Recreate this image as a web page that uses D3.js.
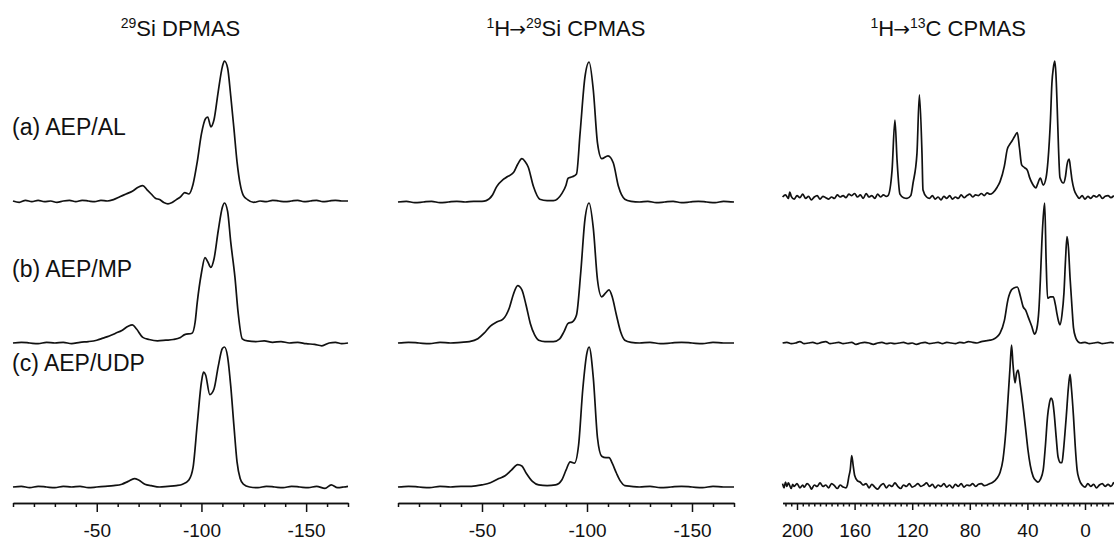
<!DOCTYPE html>
<meta charset="utf-8">
<script src="https://d3js.org/d3.v7.min.js"></script>
<style>
  body { margin: 0; background: white; }
  svg text { font-family: "Liberation Sans", Arial, sans-serif; fill: #111; }
  .spec { fill: none; stroke: #111; stroke-width: 1.7; stroke-linejoin: round; }
  .axis path, .axis line { stroke: #111; stroke-width: 1.5; }
</style>
<body>
<div id="chart"></div>
<script>
// panel titles and sample labels
var titles = [["29", "Si DPMAS"], ["1", "H", "\u2192", "29", "Si CPMAS"], ["1", "H", "\u2192", "13", "C CPMAS"]];
var samples = ["(a) AEP/AL", "(b) AEP/MP", "(c) AEP/UDP"];

// axis ticks (ppm)
var siMajor = [-50, -100, -150];
var siMinor = [-10, -20, -30, -40, -60, -70, -80, -90, -110, -120, -130, -140, -160, -170];
var cMajor = [200, 160, 120, 80, 40, 0];

// 29Si DPMAS spectra [ppm, intensity]
var dpAL = [[-10,0],[-13,-1],[-16,0.5],[-19,-0.5],[-22,0.5],[-25,-0.5],[-28,0],[-31,-1],[-34,0],[-37,0.5],[-40,-0.5],[-43,0.5],[-46,0],[-49,-0.5],[-52,0.5],[-55,0],[-58,1],[-61,3],[-64,5],[-67,7],[-70,10],[-72,11],[-74,8],[-76,5],[-78,2],[-80,1],[-82,-1],[-84,-2],[-86,-1],[-88,1],[-90,3],[-92,6],[-94,5],[-96,12],[-98,28],[-100,48],[-102,59],[-103,60],[-104.5,53],[-106,58],[-108,78],[-110,96],[-111,100],[-112.5,95],[-114,75],[-115.5,52],[-117,28],[-118.5,12],[-120,4],[-122,1],[-125,-1],[-128,0],[-131,-0.5],[-134,0.5],[-137,0],[-140,-0.5],[-143,0],[-146,0.5],[-149,-0.5],[-152,0],[-155,0.5],[-158,-0.5],[-161,0],[-164,0.5],[-167,0],[-170,0]];
var dpMP = [[-10,0],[-14,0.5],[-18,0],[-22,-0.5],[-26,0.5],[-30,0],[-34,0.5],[-38,-0.5],[-42,0.5],[-46,1],[-50,2],[-53,3.5],[-56,5],[-59,7],[-62,9],[-65,12],[-67,13],[-69,10],[-72,4],[-75,2.5],[-79,1.5],[-83,2],[-86.5,2.5],[-90,4],[-92,6],[-95.5,7],[-97,15],[-98,29],[-100,50],[-101.7,61],[-103,58],[-104.5,54],[-106,60],[-108,80],[-110,97],[-111,100],[-112.5,94],[-114,72],[-116,47],[-117.5,22],[-119.5,3],[-122,1.5],[-126,1],[-130,1.5],[-134,0.5],[-138,1],[-142,0],[-146,0.5],[-150,-0.5],[-154,-1],[-157.5,-2],[-161,0],[-164,0.5],[-167,-0.5],[-170,0]];
var dpUDP = [[-10,0],[-14,0.5],[-18,-0.5],[-22,0.5],[-26,0],[-30,-0.5],[-34,0.5],[-38,0],[-42,0.5],[-46,-0.5],[-50,0],[-54,0.5],[-58,1],[-62,2],[-65,4],[-68,6],[-70,5],[-73,2],[-76,1],[-80,0],[-84,0.5],[-88,1],[-91,2],[-94,5],[-96,14],[-98,45],[-100,75],[-101,82],[-102,80],[-104,66],[-106,70],[-108,86],[-110,99],[-111,100],[-112.5,93],[-114,72],[-115.5,44],[-117,18],[-118.5,6],[-120,2],[-123,0],[-127,-0.5],[-131,0.5],[-135,0],[-139,-0.5],[-143,0.5],[-147,0],[-151,-0.5],[-155,0.5],[-159,-1],[-162,1.5],[-165,-0.5],[-168,0],[-170,0.5]];

// 1H->29Si CPMAS spectra
var cpAL = [[-10,0],[-14,0.5],[-18,-0.5],[-22,0],[-26,0.5],[-30,-0.5],[-34,0],[-38,0.5],[-42,0],[-46,0.5],[-50,0.5],[-52,1],[-55,5],[-57,11],[-60,16],[-62,18],[-65,21],[-67,27],[-69,31],[-70.5,29],[-72,25],[-74.5,11],[-77.5,2],[-81,1],[-84,1],[-88,6],[-90,12],[-91,17],[-93,18],[-95,20],[-96.7,49],[-99,89],[-101,100],[-103,80],[-105,42],[-107,31],[-110,33],[-112.5,28],[-115,11],[-118,2],[-121,0.5],[-125,0],[-129,0.5],[-133,-0.5],[-137,0],[-141,0.5],[-145,-0.5],[-149,0],[-153,0.5],[-157,0],[-161,-0.5],[-165,0.5],[-170,0]];
var cpMP = [[-10,0],[-15,0.5],[-20,0],[-25,-0.5],[-30,0.5],[-35,0],[-40,0.5],[-44,1],[-48,3],[-51,7],[-54,12],[-57,15],[-60,17],[-63,25],[-65,35],[-67,41],[-69,38],[-71,27],[-73,14],[-75,6],[-77,2],[-80,1],[-84,1],[-87,3],[-89,8],[-91,14],[-93,15],[-95,20],[-97,50],[-99,88],[-101,100],[-103,82],[-105,45],[-107,33],[-109,36],[-110.5,38],[-112,33],[-114,20],[-116,8],[-118,2],[-121,0.5],[-125,0],[-130,0.5],[-135,-0.5],[-140,0],[-145,0.5],[-150,0],[-155,-0.5],[-160,0.5],[-165,0],[-170,0]];
var cpUDP = [[-10,0],[-15,0.5],[-20,0],[-25,-0.5],[-30,0.5],[-35,0],[-40,0.5],[-45,0.5],[-50,1.5],[-54,3],[-58,6],[-61,8],[-64,12],[-67,16],[-69,15],[-71,10],[-74,4],[-77,1.5],[-81,1],[-85,1.5],[-88,5],[-90,12],[-92,18],[-94,17],[-96,30],[-98,70],[-100,96],[-101,100],[-103,78],[-105,35],[-107,22],[-109,21],[-110.5,21],[-112,17],[-114,10],[-116,4],[-118,1],[-121,0.5],[-125,0],[-130,0.5],[-135,-0.5],[-140,0],[-145,0.5],[-150,0],[-155,-0.5],[-160,0.5],[-165,0],[-170,0]];

// 1H->13C CPMAS spectra
var ccAL = [[210,0],[208,1.5],[206,-1],[205,3.5],[204,0.5],[202,-1.5],[200,1],[198,-0.5],[196,2],[194,-1],[192,0.5],[190,-2],[188,0],[186,1],[184,-1.5],[182,0.5],[180,-0.5],[178,-1.5],[176,0],[174,-1],[172,1.5],[170,0],[168,1],[166,-0.5],[164,2],[162,1],[160,2.5],[158,0],[156,1.5],[154,-1],[152,2.5],[150,0],[148,1],[146,-1],[144,2],[142,0],[140,1.5],[138,0.5],[136.8,1],[134,19],[132,55],[130.5,26],[128.5,2],[126,-0.5],[123.6,-1],[121,1],[119.4,10],[116.7,31],[115,73],[113.2,31],[112.5,5],[110,0],[108,-1],[106,1],[104,-1.5],[102,0],[100,-2],[98,0.5],[96,-1],[94,1],[92,-1.5],[90,0],[88,-1],[86,1.5],[84,-0.5],[82,1],[80,2],[78,0],[76,1.5],[74,1],[72,2.5],[70,1],[68,3],[66,2],[64,3],[61,7],[59,11],[56,22],[54,34],[52,38],[50.7,40],[49,43],[47,46],[45.5,35],[44,23],[42,21],[40,19],[38.5,14],[36.8,10],[34,6.5],[33,9],[31,13.5],[29,8.5],[27,14],[25.7,26],[24,55],[23,81],[22,92],[21,97],[20.2,88],[19.4,67],[18.4,35],[17.4,14],[15,10],[13.5,15],[12.5,23],[11,27],[10,20],[9,12],[7.5,5],[5.6,1],[4,-1],[2,1],[0,-1.5],[-2,0.5],[-4,-1],[-6,1],[-8,0],[-10,1.5],[-12,-1],[-14,0.5],[-16,1],[-18,-0.5],[-20,1]];
var ccMP = [[210,0],[207,0.5],[204,-0.5],[201,0],[198,1],[195,-0.5],[192,0],[189,0.5],[186,-0.5],[183,0.5],[180,1],[177,-0.5],[174,0],[171,0.5],[168,-0.5],[165,0],[162,0.5],[159,-1],[156,0],[153,0.5],[150,0],[147,-1],[144,0],[141,0.5],[138,-0.5],[135,0],[132,-0.5],[129,0],[126,0.5],[123,-0.5],[120,0],[117,-1],[114,0],[111,0.5],[108,-0.5],[105,0],[102,0.5],[99,-0.5],[96,0.5],[93,0],[90,-0.5],[87,0.5],[84,0],[81,1],[78,0.5],[75,0],[72,1],[69,1.5],[66,2],[64,2.5],[61.5,4],[59,7],[56,16],[53.5,31],[51,38],[49,39.5],[47,40],[45,34],[43,26],[41,23],[39.6,19],[37,12],[35,6.4],[33.5,10],[32,24],[31,45],[30,71],[29,90],[28,100],[27,59],[26,32],[24,33],[22,33],[20.5,27],[19.5,21],[18.5,16],[17.4,13],[16,20],[14.6,36],[13.5,60],[12.5,76],[11.5,68],[10.4,47],[9,25],[8,11],[6.5,4],[4.9,1],[3,0],[0,0.5],[-3,-0.5],[-6,0],[-9,0.5],[-12,-0.5],[-15,0],[-18,0.5],[-20,0]];
var ccUDP = [[210,1],[209,-2],[208,2],[207,-1],[206,1.5],[204,-2.5],[203,0.5],[202,-1],[200,1],[198,-2],[196,0],[195,-1.5],[193,1],[191,-1],[190,-3],[188,0],[186,-1],[184,1.5],[182,-1],[180,0],[178,-2],[176,1],[174,-0.5],[172,-2.5],[170,0],[168,-1.5],[166,-2],[165,0],[164,6],[163,11],[162,21],[161,14],[160,7],[158,3],[156,2],[154,0],[152,1],[150,-2],[148,0.5],[146,-1.5],[144,-3],[142,-0.5],[140,1],[138,-2],[136,0],[134,-1],[132,1.5],[130,-1],[128,-2.5],[126,0],[124,-1],[122,1],[120,-1.5],[118,-0.5],[116,1],[114,-1],[112,0],[110,1.5],[108,-1],[106,0.5],[104,-2],[102,0],[100,-1],[98,1],[96,-1.5],[94,0],[92,-2],[90,0.5],[88,-1],[86,1],[84,-1.5],[82,0],[80,-0.5],[78,1],[76,-1],[74,0.5],[72,1],[70,-0.5],[68,0],[66,1],[64,2],[61,5],[59,9],[57,18],[55,38],[53.5,61],[52,85],[51,100],[50,86],[48.6,73],[47.5,80],[46.5,82],[45,72],[43,56],[41,38],[39.6,25],[38,14],[36,6],[34,3],[32.6,2],[31,4],[29,11],[27.5,28],[26,49],[24.8,58],[23.6,62],[22.5,60],[21.5,52],[20,34],[18.7,20],[17,16],[16,16],[15,24],[14,36],[13,49],[11.5,70],[10.4,79],[9.5,70],[8,49],[6.8,28],[5.5,11],[4,4],[2,0],[0,-1.5],[-2,1],[-4,-1],[-6,0.5],[-8,-2],[-10,0],[-12,1],[-14,-1],[-16,0.5],[-18,-1],[-20,2]];

var width = 1114, height = 543;
var axisY = 503;

var svg = d3.select("#chart").append("svg")
    .attr("width", width)
    .attr("height", height);

var panels = [
  {x: d3.scaleLinear().domain([-10, -170]).range([13, 348]), base: [201, 343, 487], spectra: [dpAL, dpMP, dpUDP]},
  {x: d3.scaleLinear().domain([-10, -170]).range([398, 734]), base: [202, 343, 487], spectra: [cpAL, cpMP, cpUDP]},
  {x: d3.scaleLinear().domain([210, -20]).range([782.6, 1113.8]), base: [197, 343, 485], spectra: [ccAL, ccMP, ccUDP]}
];

panels.forEach(function(p, pi) {
  var g = svg.append("g");
  var cx = (p.x.range()[0] + p.x.range()[1]) / 2;

  // title, numbers are superscripts
  var t = g.append("text")
      .attr("x", cx)
      .attr("y", 36)
      .attr("text-anchor", "middle")
      .style("font-size", "22px");
  var raised = false;
  titles[pi].forEach(function(s) {
    var sup = /^\d+$/.test(s);
    var ts = t.append("tspan").text(s);
    if (sup) {
      ts.style("font-size", "14px").attr("dy", raised ? 0 : -8);
      raised = true;
    } else {
      ts.attr("dy", raised ? 8 : 0);
      raised = false;
      if (s == "\u2192") ts.style("font-family", "DejaVu Sans").style("font-size", "20px").attr("dx", -1);
    }
  });

  p.spectra.forEach(function(data, ri) {
    var y = d3.scaleLinear().domain([0, 100]).range([p.base[ri], p.base[ri] - 140]);
    var line = d3.line()
        .x(function(d) { return p.x(d[0]); })
        .y(function(d) { return y(d[1]); })
        .curve(d3.curveMonotoneX);
    g.append("path")
      .datum(data)
      .attr("class", "spec")
      .attr("d", line);
  });

  // axes
  if (pi < 2) {
    g.append("g")
      .attr("class", "axis")
      .attr("transform", "translate(0," + axisY + ")")
      .call(d3.axisBottom(p.x).tickValues(siMinor).tickSize(4).tickSizeOuter(0).tickFormat(""));
    g.append("g")
      .attr("class", "axis")
      .attr("transform", "translate(0," + axisY + ")")
      .call(d3.axisBottom(p.x).tickValues(siMajor).tickSize(9).tickSizeOuter(0).tickPadding(12).tickFormat(function(d) { return String(d); }))
      .selectAll("text").style("font-size", "19px").attr("fill", "#111");
  } else {
    var minor = d3.range(208, -20, -4).filter(function(v) { return v % 40 != 0; });
    g.append("g")
      .attr("class", "axis")
      .attr("transform", "translate(0," + axisY + ")")
      .call(d3.axisBottom(p.x).tickValues(minor).tickSize(3.5).tickSizeOuter(0).tickFormat(""));
    g.append("g")
      .attr("class", "axis")
      .attr("transform", "translate(0," + axisY + ")")
      .call(d3.axisBottom(p.x).tickValues(cMajor).tickSize(7).tickSizeOuter(0).tickPadding(14).tickFormat(function(d) { return String(d); }))
      .selectAll("text").style("font-size", "19px").attr("fill", "#111");
  }
});

// sample labels
svg.selectAll("text.sample")
  .data(samples)
  .enter()
  .append("text")
    .attr("class", "sample")
    .attr("x", 12)
    .attr("y", function(d, i) { return [135, 277, 371][i]; })
    .style("font-size", "23px")
    .text(function(d) { return d; });
</script>
</body>
